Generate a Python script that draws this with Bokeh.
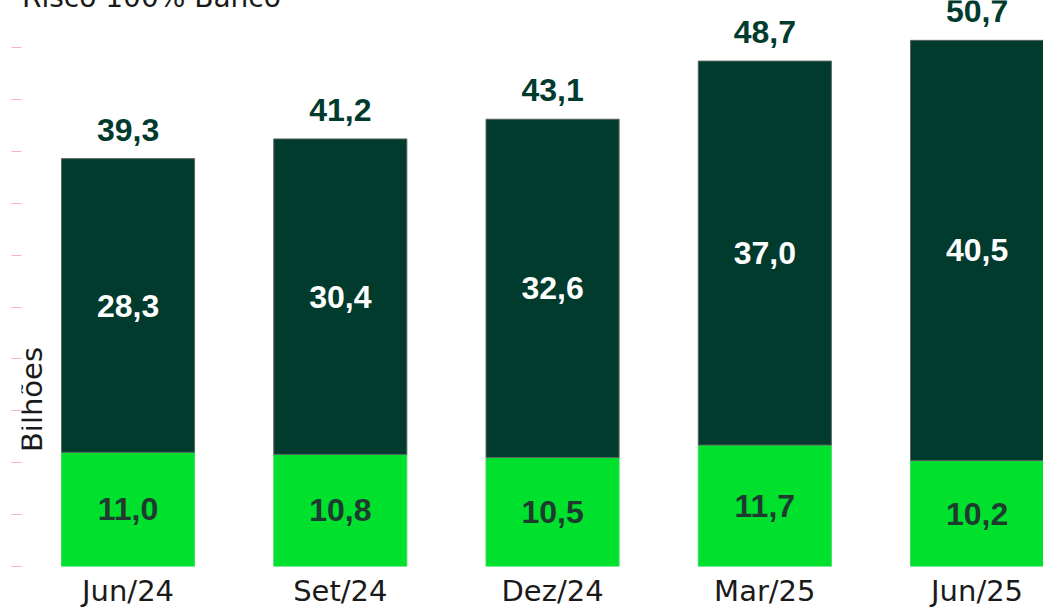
from bokeh.plotting import figure
from bokeh.models import Range1d, FixedTicker, ColumnDataSource, LabelSet, Label, Legend, LegendItem
from bokeh.core.properties import value
from bokeh.embed import file_html
from bokeh.resources import INLINE
import math

categories = ["Jun/24", "Set/24", "Dez/24", "Mar/25", "Jun/25"]
base_values = [11.0, 10.8, 10.5, 11.7, 10.2]
banco_values = [28.3, 30.4, 32.6, 37.0, 40.5]
totals = [39.3, 41.2, 43.1, 48.7, 50.7]
legend_label = "Risco 100% Banco"
y_title = "Bilhões"

DARK = "#003b2e"
BRIGHT = "#00e12d"
FONT = "DejaVu Sans"
BFONT = "Liberation Sans"

def fmt(v):
    return f"{v:.1f}".replace(".", ",")

xs = list(range(len(categories)))
src = ColumnDataSource(dict(
    x=xs,
    base=base_values,
    banco=banco_values,
    total=totals,
    top_banco=[b + c for b, c in zip(base_values, banco_values)],
    mid_base=[b / 2 for b in base_values],
    mid_banco=[b + c / 2 for b, c in zip(base_values, banco_values)],
    base_txt=[fmt(v) for v in base_values],
    banco_txt=[fmt(v) for v in banco_values],
    total_txt=[fmt(v) for v in totals],
))

p = figure(width=1043, height=610, output_backend="svg", toolbar_location=None,
           x_range=Range1d(-0.502, 4.313), y_range=Range1d(0, 54.54),
           min_border_left=21, min_border_right=0, min_border_top=0, min_border_bottom=0)
p.outline_line_color = None
p.grid.grid_line_color = None
p.background_fill_color = "white"

r_base = p.vbar(x="x", width=0.627, bottom=0, top="base", source=src,
                fill_color=BRIGHT, line_color="#3fdc5c", line_width=1)
r_banco = p.vbar(x="x", width=0.627, bottom="base", top="top_banco", source=src,
                 fill_color=DARK, line_color="#5a6360", line_width=1)

# x axis
xa = p.xaxis[0]
xa.ticker = FixedTicker(ticks=xs)
xa.major_label_overrides = {i: c for i, c in enumerate(categories)}
xa.axis_line_color = None
xa.major_tick_line_color = None
xa.minor_tick_line_color = None
xa.major_label_text_font = FONT
xa.major_label_text_font_size = "29px"
xa.major_label_text_color = "#1a1a1a"
xa.major_label_standoff = 1

# y axis
ya = p.yaxis[0]
ya.ticker = FixedTicker(ticks=[0, 5, 10, 15, 20, 25, 30, 35, 40, 45, 50])
ya.axis_line_color = None
ya.minor_tick_line_color = None
ya.major_tick_line_color = "#f2b5b8"
ya.major_tick_out = 10
ya.major_tick_in = 0
ya.major_label_text_font_size = "0px"
ya.major_label_standoff = 0

p.add_layout(LabelSet(x="x", y="mid_base", text="base_txt", source=src,
                      text_align="center", text_baseline="middle",
                      text_font=value(BFONT), text_font_style="bold",
                      text_font_size="32px", text_color="#1f3a2f"))
p.add_layout(LabelSet(x="x", y="mid_banco", text="banco_txt", source=src,
                      text_align="center", text_baseline="middle",
                      text_font=value(BFONT), text_font_style="bold",
                      text_font_size="32px", text_color="white"))
p.add_layout(LabelSet(x="x", y="total", text="total_txt", source=src,
                      text_align="center", text_baseline="alphabetic", y_offset=18,
                      text_font=value(BFONT), text_font_style="bold",
                      text_font_size="32px", text_color=DARK))

p.add_layout(Label(x=10, y=167, x_units="screen", y_units="screen", text=y_title,
                   angle=math.pi / 2, text_align="center", text_baseline="middle",
                   text_font=FONT, text_font_size="29px", text_color="#1a1a1a"))

legend = Legend(items=[LegendItem(label=legend_label, renderers=[r_banco])],
                location=(-21, 552), margin=0, padding=0, border_line_color=None,
                background_fill_alpha=0, label_text_font=FONT,
                label_text_font_size="28px", label_text_color="#1a1a1a",
                glyph_width=14, glyph_height=27, label_standoff=8)
p.add_layout(legend)

open("out.html", "w").write(file_html(p, INLINE))
